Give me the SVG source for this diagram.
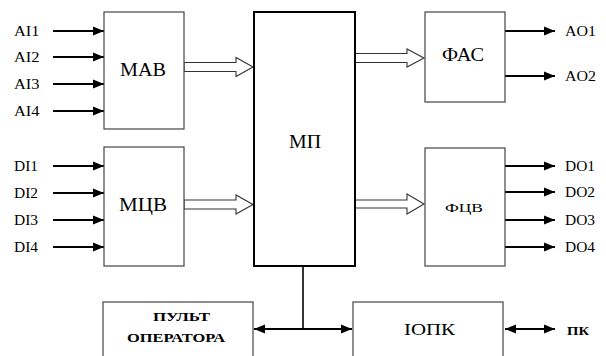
<svg xmlns="http://www.w3.org/2000/svg" width="606" height="356" viewBox="0 0 606 356" font-family="Liberation Serif, Tinos, DejaVu Serif, serif">
<style>
.box{fill:#fff;stroke:#444;stroke-width:1.2}
.mp{fill:#fff;stroke:#000;stroke-width:2}
.sig{stroke:#000;stroke-width:2.2;fill:none}
.hol{fill:#fff;stroke:#333;stroke-width:1.1}
.lab{font-size:14px}
.big{font-size:18px}
.b{font-weight:bold;font-size:13.5px}
</style>
<defs>
<marker id="ah" viewBox="0 0 10 10" refX="10" refY="5" markerWidth="5" markerHeight="5" orient="auto-start-reverse" markerUnits="strokeWidth">
<path d="M0,1 L10,5 L0,9 Z" fill="#000"/>
</marker>
</defs>
<rect width="606" height="356" fill="#fff"/>
<g id="connectors">
<line class="sig" x1="53" y1="31" x2="104" y2="31" marker-end="url(#ah)"/>
<line class="sig" x1="53" y1="57" x2="104" y2="57" marker-end="url(#ah)"/>
<line class="sig" x1="53" y1="84" x2="104" y2="84" marker-end="url(#ah)"/>
<line class="sig" x1="53" y1="111" x2="104" y2="111" marker-end="url(#ah)"/>
<line class="sig" x1="53" y1="166" x2="104" y2="166" marker-end="url(#ah)"/>
<line class="sig" x1="53" y1="193" x2="104" y2="193" marker-end="url(#ah)"/>
<line class="sig" x1="53" y1="220" x2="104" y2="220" marker-end="url(#ah)"/>
<line class="sig" x1="53" y1="247" x2="104" y2="247" marker-end="url(#ah)"/>
<line class="sig" x1="505" y1="31" x2="555" y2="31" marker-end="url(#ah)"/>
<line class="sig" x1="505" y1="76" x2="555" y2="76" marker-end="url(#ah)"/>
<line class="sig" x1="505" y1="166" x2="555" y2="166" marker-end="url(#ah)"/>
<line class="sig" x1="505" y1="192" x2="555" y2="192" marker-end="url(#ah)"/>
<line class="sig" x1="505" y1="220" x2="555" y2="220" marker-end="url(#ah)"/>
<line class="sig" x1="505" y1="247" x2="555" y2="247" marker-end="url(#ah)"/>
<path class="hol" d="M184,62.5 H236 V57.5 L253,67 L236,76.5 V71.5 H184 Z"/>
<path class="hol" d="M184,200 H236 V195 L253,204.5 L236,214 V209 H184 Z"/>
<path class="hol" d="M355,53.5 H407 V49 L424,58 L407,67 V62.5 H355 Z"/>
<path class="hol" d="M355,200 H407 V194 L424,204 L407,214 V208 H355 Z"/>
<line x1="303" y1="266" x2="303" y2="329" stroke="#000" stroke-width="1.6"/>
<line class="sig" x1="254" y1="329" x2="352" y2="329" marker-start="url(#ah)" marker-end="url(#ah)"/>
<line class="sig" x1="505" y1="329" x2="555" y2="329" marker-start="url(#ah)" marker-end="url(#ah)"/>
</g>
<g id="labels-io" class="lab">
<text x="14" y="36" textLength="25.5" lengthAdjust="spacingAndGlyphs">AI1</text>
<text x="14" y="62" textLength="25.5" lengthAdjust="spacingAndGlyphs">AI2</text>
<text x="14" y="88.5" textLength="25.5" lengthAdjust="spacingAndGlyphs">AI3</text>
<text x="14" y="115.5" textLength="25.5" lengthAdjust="spacingAndGlyphs">AI4</text>
<text x="14" y="170.5" textLength="24" lengthAdjust="spacingAndGlyphs">DI1</text>
<text x="14" y="197.5" textLength="24" lengthAdjust="spacingAndGlyphs">DI2</text>
<text x="14" y="225" textLength="24" lengthAdjust="spacingAndGlyphs">DI3</text>
<text x="14" y="252" textLength="24" lengthAdjust="spacingAndGlyphs">DI4</text>
<text x="565" y="35.5" textLength="31" lengthAdjust="spacingAndGlyphs">AO1</text>
<text x="565" y="81" textLength="31" lengthAdjust="spacingAndGlyphs">AO2</text>
<text x="565" y="170.5" textLength="30" lengthAdjust="spacingAndGlyphs">DO1</text>
<text x="565" y="197" textLength="30" lengthAdjust="spacingAndGlyphs">DO2</text>
<text x="565" y="225" textLength="30" lengthAdjust="spacingAndGlyphs">DO3</text>
<text x="565" y="251.5" textLength="30" lengthAdjust="spacingAndGlyphs">DO4</text>
<text x="567" y="335" class="b" textLength="22" lengthAdjust="spacingAndGlyphs">ПК</text>
</g>
<g id="mav"><rect class="box" x="104" y="12" width="80" height="117"/><text class="big" x="120" y="76" textLength="46" lengthAdjust="spacingAndGlyphs">МАВ</text></g>
<g id="mcv"><rect class="box" x="104" y="147" width="80" height="119"/><text class="big" x="119" y="211" textLength="48" lengthAdjust="spacingAndGlyphs">МЦВ</text></g>
<g id="mp"><rect class="mp" x="254" y="12" width="101" height="254"/><text class="big" x="289" y="148" textLength="32" lengthAdjust="spacingAndGlyphs">МП</text></g>
<g id="fas"><rect class="box" x="425" y="12" width="80" height="90"/><text class="big" x="442" y="61" textLength="42" lengthAdjust="spacingAndGlyphs">ФАС</text></g>
<g id="fcv"><rect class="box" x="425" y="148" width="80" height="118"/><text font-size="13" x="445" y="211.5" textLength="38" lengthAdjust="spacingAndGlyphs">ФЦВ</text></g>
<g id="pult"><rect class="box" x="103" y="302" width="150" height="60"/><text class="b" x="153" y="321" textLength="57" lengthAdjust="spacingAndGlyphs">ПУЛЬТ</text><text class="b" x="127" y="342" textLength="98" lengthAdjust="spacingAndGlyphs">ОПЕРАТОРА</text></g>
<g id="iopk"><rect class="box" x="353" y="302" width="150" height="60"/><text font-size="17" x="404" y="335" textLength="51" lengthAdjust="spacingAndGlyphs">ІОПК</text></g>
</svg>
